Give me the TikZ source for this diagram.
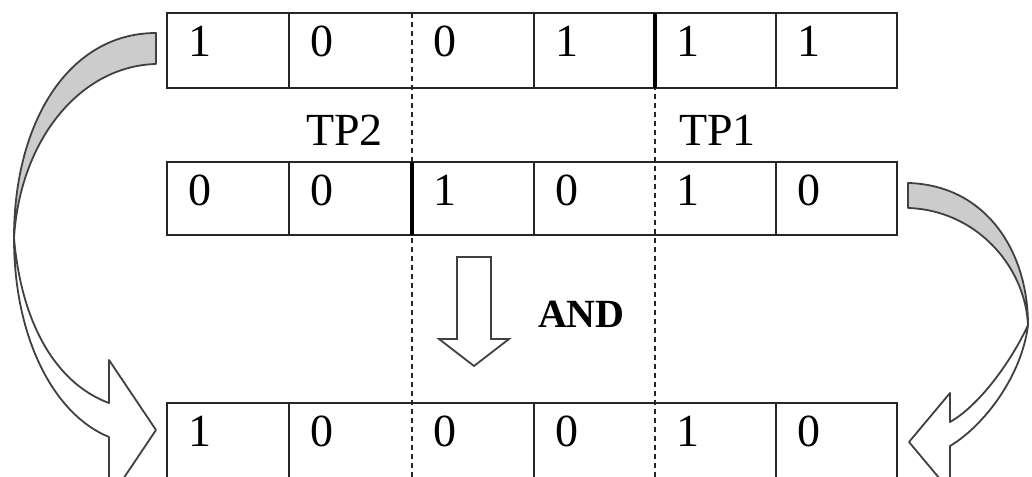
\documentclass[tikz,border=0pt]{standalone}
\usepackage{fontspec}
\setmainfont{Liberation Serif}
\begin{document}
\begin{tikzpicture}[x=1pt,y=-1pt,
  rowbox/.style={draw=black!85, line width=2pt, inner sep=0pt, outer sep=0pt, anchor=north west, minimum width=730pt},
  divline/.style={draw=black!85, line width=2pt},
  thicksep/.style={draw=black, line width=4pt},
  dashsep/.style={draw=black!85, line width=2pt, dash pattern=on 5pt off 4pt},
  digit/.style={inner sep=0pt, outer sep=0pt, anchor=base west, font=\fontsize{46}{50}\selectfont},
  lbl/.style={inner sep=0pt, outer sep=0pt, anchor=base west, font=\fontsize{46}{50}\selectfont},
  andlbl/.style={inner sep=0pt, outer sep=0pt, anchor=base west, font=\fontsize{40}{44}\selectfont\bfseries},
  backface/.style={draw=black!75, fill=black!20, line width=1.8pt, line join=round},
  frontface/.style={draw=black!75, fill=white, line width=1.8pt, line join=round},
  blockarrow/.style={draw=black!75, fill=white, line width=1.8pt, line join=miter}
]
\useasboundingbox (0,0) rectangle (1032,476);
\clip (0,0) rectangle (1032,476);

% column edges
\coordinate (c1) at (167,0);
\coordinate (c2) at (289,0);
\coordinate (c3) at (412,0);
\coordinate (c4) at (534,0);
\coordinate (c5) at (655,0);
\coordinate (c6) at (776,0);
\coordinate (c7) at (897,0);

% rows
\node[rowbox, minimum height=75pt] (toprow) at (167,13) {};
\node[rowbox, minimum height=73pt] (midrow) at (167,162) {};
\node[rowbox, minimum height=75pt] (botrow) at (167,403) {};

% solid dividers
\foreach \c in {c2,c4,c6}{
  \draw[divline] (\c |- toprow.north) -- (\c |- toprow.south);
  \draw[divline] (\c |- midrow.north) -- (\c |- midrow.south);
  \draw[divline] (\c |- botrow.north) -- (\c |- botrow.south);
}

% dashed guide lines
\draw[dashsep] (c3 |- toprow.north) -- (c3 |- botrow.south);
\draw[dashsep] (c5 |- toprow.north) -- (c5 |- botrow.south);

% thick separators
\draw[thicksep] (c5 |- toprow.north) -- (c5 |- toprow.south);
\draw[thicksep] (c3 |- midrow.north) -- (c3 |- midrow.south);

% digits
\foreach \i/\x/\d in {1/167/1,2/289/0,3/412/0,4/534/1,5/655/1,6/776/1}
  \node[digit] (td\i) at (\x+21,57) {\d};
\foreach \i/\x/\d in {1/167/0,2/289/0,3/412/1,4/534/0,5/655/1,6/776/0}
  \node[digit] (md\i) at (\x+21,205) {\d};
\foreach \i/\x/\d in {1/167/1,2/289/0,3/412/0,4/534/0,5/655/1,6/776/0}
  \node[digit] (bd\i) at (\x+21,446) {\d};

% labels
\node[lbl] (tp2) at (306,145) {TP2};
\node[lbl] (tp1) at (679,145) {TP1};
\node[andlbl] (andl) at (538,327) {AND};

% AND block arrow
\draw[blockarrow] (457,257) -- (491,257) -- (491,339) -- (509,339) -- (474,366)
  -- (439,339) -- (457,339) -- cycle;

% left curved arrow
\draw[backface] (156,33) .. controls (70,33) and (14,120) .. (14,238)
  .. controls (20,140) and (80,66) .. (156,64) -- cycle;
\draw[frontface] (14,238) .. controls (14,340) and (55,415) .. (109,437)
  -- (109,500) -- (156,430) -- (109,360) -- (109,403)
  .. controls (60,385) and (22,330) .. (14,238) -- cycle;

% right curved arrow
\draw[backface] (908,183) .. controls (985,185) and (1028,250) .. (1028,325)
  .. controls (1025,265) and (975,210) .. (908,208) -- cycle;
\draw[frontface] (1028,325) .. controls (1022,375) and (985,425) .. (950,446)
  -- (950,491) -- (909,442) -- (950,393) -- (950,422)
  .. controls (980,405) and (1012,360) .. (1028,325) -- cycle;
\end{tikzpicture}
\end{document}
